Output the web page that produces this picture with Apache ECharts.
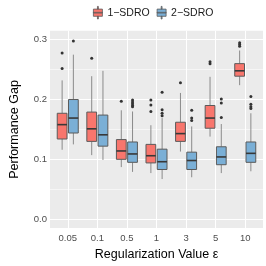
<!DOCTYPE html>
<html><head><meta charset="utf-8">
<script src="https://cdn.jsdelivr.net/npm/echarts@6/dist/echarts.min.js"></script>
<style>html,body{margin:0;padding:0;background:#fff}#c{width:266px;height:266px}</style>
</head><body><div id="c"></div>
<script>
const categories = ['0.05','0.1','0.5','1','3','5','10'];
const seriesNames = ['1−SDRO','2−SDRO'];
// each row: [lower whisker, Q1, median, Q3, upper whisker]
const sdro1Boxes = [
  [0.116,0.134,0.158,0.177,0.232],
  [0.107,0.130,0.151,0.179,0.239],
  [0.087,0.100,0.114,0.133,0.182],
  [0.077,0.094,0.106,0.125,0.157],
  [0.113,0.130,0.143,0.162,0.211],
  [0.138,0.152,0.169,0.190,0.238],
  [0.224,0.239,0.248,0.260,0.282]
];
const sdro2Boxes = [
  [0.125,0.144,0.169,0.200,0.275],
  [0.099,0.122,0.141,0.174,0.248],
  [0.079,0.095,0.109,0.129,0.180],
  [0.067,0.083,0.096,0.117,0.169],
  [0.070,0.083,0.098,0.112,0.155],
  [0.077,0.091,0.104,0.121,0.159],
  [0.080,0.095,0.110,0.129,0.177]
];
// [category index, value]
const sdro1Outliers = [[0,0.278],[0,0.252],[1,0.269],[2,0.197],[3,0.199],[3,0.191],[3,0.180],[4,0.228],[5,0.263],[5,0.260],[6,0.295],[6,0.292],[6,0.289]];
const sdro2Outliers = [[0,0.298],[2,0.199],[2,0.196],[2,0.193],[2,0.190],[2,0.188],[3,0.212],[3,0.183],[3,0.177],[3,0.173],[4,0.182],[4,0.169],[4,0.165],[5,0.201],[5,0.194],[5,0.170],[6,0.205],[6,0.192],[6,0.188],[6,0.185]];
const yTicks = [0, 0.1, 0.2, 0.3];
const yMinor = [0.05, 0.15, 0.25];

const colors = ['#F8766D', '#7AAFD6'];
const offsets = [-0.19, 0.19];
const HALF = 0.165;
const FONT = 'Liberation Sans';
const legendIcon = 'path://M4.5,0H5.5V3H4.5Z M0,3H10V11H0Z M0,6.6H10V7.4H0Z M4.5,11H5.5V14H4.5Z';

function boxRender(k) {
  return function (params, api) {
    const x = api.value(0);
    const band = api.size([1, 0])[0];
    const cx = api.coord([x, 0])[0] + offsets[k] * band;
    const hw = HALF * band;
    const y = i => api.coord([x, api.value(i)])[1];
    const lo = y(1), q1 = y(2), md = y(3), q3 = y(4), hi = y(5);
    return {type: 'group', children: [
      {type: 'line', shape: {x1: cx, y1: hi, x2: cx, y2: q3}, style: {stroke: '#8a8a8a', lineWidth: 1}},
      {type: 'line', shape: {x1: cx, y1: q1, x2: cx, y2: lo}, style: {stroke: '#8a8a8a', lineWidth: 1}},
      {type: 'rect', shape: {x: cx - hw, y: q3, width: 2 * hw, height: q1 - q3}, style: {fill: colors[k], stroke: '#5a5a5a', lineWidth: 1}},
      {type: 'line', shape: {x1: cx - hw, y1: md, x2: cx + hw, y2: md}, style: {stroke: '#383838', lineWidth: 1.6}}
    ]};
  };
}
function outRender(k) {
  return function (params, api) {
    const x = api.value(0);
    const band = api.size([1, 0])[0];
    const p = api.coord([x, api.value(1)]);
    return {type: 'circle', shape: {cx: p[0] + offsets[k] * band, cy: p[1], r: 1.5}, style: {fill: '#333'}};
  };
}

const gridLines = [];
yTicks.forEach(v => gridLines.push({yAxis: v, lineStyle: {width: 1.1}}));
yMinor.forEach(v => gridLines.push({yAxis: v, lineStyle: {width: 0.55}}));
categories.forEach((c, i) => gridLines.push({xAxis: i, lineStyle: {width: 1.1}}));

const catIdx = categories.map((c, i) => i);
const chart = echarts.init(document.getElementById('c'), null, {renderer: 'canvas'});
chart.setOption({
  animation: false,
  textStyle: {fontFamily: FONT},
  grid: {left: 36, right: 3, top: 30.75, bottom: 31.75, show: true, backgroundColor: '#EBEBEB', borderWidth: 0},
  legend: {
    top: 6, left: 93, itemWidth: 9, itemHeight: 14, itemGap: 7, padding: 0,
    textStyle: {fontSize: 10.5, color: '#1a1a1a', fontFamily: FONT},
    data: seriesNames.map((n, k) => ({name: n, icon: legendIcon, itemStyle: {color: colors[k], borderColor: '#5a5a5a', borderWidth: 0.8}}))
  },
  xAxis: {
    type: 'value', min: -0.6, max: 6.6,
    axisLine: {show: false},
    splitLine: {show: false},
    axisTick: {show: true, customValues: catIdx, length: 2.75, lineStyle: {color: '#333', width: 1}},
    axisLabel: {customValues: catIdx, formatter: v => categories[Math.round(v)], color: '#4D4D4D', fontSize: 9.5, margin: 5, fontFamily: FONT},
    name: 'Regularization Value ε', nameLocation: 'middle', nameGap: 18,
    nameTextStyle: {fontSize: 12.5, color: '#000', fontFamily: FONT}
  },
  yAxis: {
    type: 'value', min: -0.015, max: 0.315,
    axisLine: {show: false},
    splitLine: {show: false},
    axisTick: {show: true, customValues: yTicks, length: 2.75, lineStyle: {color: '#333', width: 1}},
    axisLabel: {customValues: yTicks, formatter: v => v.toFixed(1), color: '#4D4D4D', fontSize: 9.5, margin: 3, fontFamily: FONT},
    name: 'Performance Gap', nameLocation: 'middle', nameGap: 29,
    nameTextStyle: {fontSize: 12.5, color: '#000', fontFamily: FONT}
  },
  series: [
    {type: 'line', data: [], silent: true, markLine: {silent: true, z: 1, symbol: 'none', label: {show: false}, lineStyle: {color: '#fff', type: 'solid'}, emphasis: {disabled: true}, data: gridLines}},
    {type: 'custom', name: seriesNames[0], z: 3, itemStyle: {color: colors[0]}, renderItem: boxRender(0), encode: {x: 0, y: [1,2,3,4,5]}, data: sdro1Boxes.map((b, i) => [i].concat(b))},
    {type: 'custom', name: seriesNames[1], z: 3, itemStyle: {color: colors[1]}, renderItem: boxRender(1), encode: {x: 0, y: [1,2,3,4,5]}, data: sdro2Boxes.map((b, i) => [i].concat(b))},
    {type: 'custom', name: seriesNames[0], z: 4, itemStyle: {color: colors[0]}, renderItem: outRender(0), encode: {x: 0, y: 1}, data: sdro1Outliers},
    {type: 'custom', name: seriesNames[1], z: 4, itemStyle: {color: colors[1]}, renderItem: outRender(1), encode: {x: 0, y: 1}, data: sdro2Outliers}
  ]
});
</script></body></html>
